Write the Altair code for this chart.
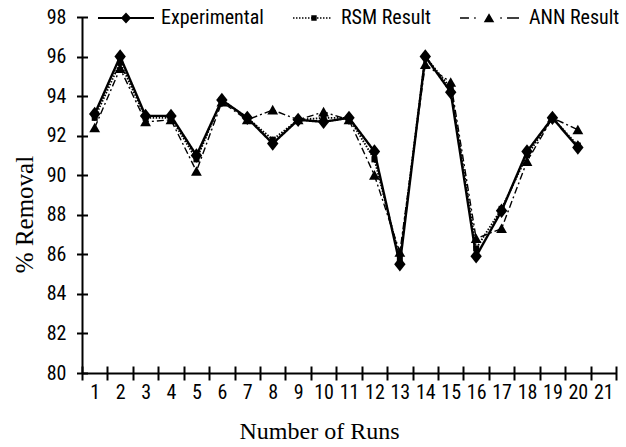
import altair as alt
import pandas as pd

# ---- data ----
runs = list(range(1, 21))
experimental = [93.1, 96.0, 93.0, 93.0, 91.0, 93.8, 92.9, 91.6, 92.8, 92.7,
                92.9, 91.2, 85.5, 96.0, 94.2, 85.9, 88.2, 91.2, 92.9, 91.4]
rsm = [92.9, 95.7, 92.9, 92.9, 90.8, 93.8, 92.9, 91.8, 92.8, 92.9,
       92.9, 90.8, 85.8, 96.0, 94.4, 86.3, 88.3, 91.0, 92.9, 91.5]
ann = [92.4, 95.4, 92.7, 92.8, 90.2, 93.7, 92.8, 93.3, 92.8, 93.2,
       92.8, 90.0, 86.1, 95.6, 94.7, 86.8, 87.3, 90.7, 92.9, 92.3]
series_names = ["Experimental", "RSM Result", "ANN Result"]
y_ticks = list(range(80, 99, 2))
x_labels = list(range(1, 22))

rows = []
for name, vals in zip(series_names, [experimental, rsm, ann]):
    for r, v in zip(runs, vals):
        rows.append({"run": r, "removal": v, "series": name})
df = pd.DataFrame(rows)

SANS = "Liberation Sans Narrow, Roboto Condensed, DejaVu Sans Condensed, sans-serif"
SERIF = "Liberation Serif, Times New Roman, serif"

# ---- marker shapes (unit space, -1..1 = symbol box) ----
chart_shapes = [
    "M0,-1.2L0.95,0L0,1.2L-0.95,0Z",
    "M-0.5,-0.5H0.5V0.5H-0.5Z",
    "M0,-0.85L0.9,0.75L-0.9,0.75Z",
]


def hbar(x0, x1, t=0.12):
    return f"M{x0:.2f},{-t:.2f}H{x1:.2f}V{t:.2f}H{x0:.2f}Z"


def dotted(x0, x1, step=0.5, w=0.25, t=0.12):
    out = []
    x = x0
    while x + w <= x1 + 1e-6:
        out.append(hbar(x, x + w, t))
        x += step
    return "".join(out)


leg_exp = hbar(-4.67, 4.67, 0.17) + "M0,-0.9L0.85,0L0,0.9L-0.85,0Z"
leg_rsm = dotted(-2.17, 4.17) + "M0.88,-0.45H1.78V0.45H0.88Z"
leg_ann = (hbar(-5.67, -4.17) + hbar(-3.3, -3.05) + "M-0.83,-0.8L0.05,0.7L-1.71,0.7Z"
           + hbar(1.05, 1.3) + hbar(2.17, 4.17))
legend_shapes = [leg_exp, leg_rsm, leg_ann]

x_scale = alt.Scale(domain=[0.5, 21.5], nice=False, zero=False)
y_scale = alt.Scale(domain=[80, 98], nice=False, zero=False)

axis_x_main = alt.Axis(
    orient="bottom", values=x_labels, format="d", domain=True, domainColor="black",
    domainWidth=2, ticks=False, tickSize=0, labelFont=SANS, labelFontSize=20,
    labelColor="black", labelPadding=9, labelFlush=False, labelOverlap=False, grid=False,
    title="Number of Runs", titleFont=SERIF, titleFontSize=24, titleFontWeight="normal",
    titleColor="black", titleX=237, titlePadding=17,
)
axis_x_ticks = alt.Axis(
    orient="bottom", values=[k - 0.5 for k in x_labels] + [21.5], domain=False,
    ticks=True, tickSize=14, tickWidth=2, tickColor="black", labels=False, grid=False,
    title=None, offset=-7,
)
axis_y_main = alt.Axis(
    orient="left", values=y_ticks, domain=True, domainColor="black", domainWidth=2,
    ticks=False, tickSize=0, labelFont=SANS, labelFontSize=20, labelColor="black",
    labelPadding=16, grid=False, title="% Removal", titleFont=SERIF, titleFontSize=25,
    titleFontWeight="normal", titleColor="black", titleY=197, titlePadding=9,
)
axis_y_ticks = alt.Axis(
    orient="left", values=y_ticks, domain=False, ticks=True, tickSize=11, tickWidth=2,
    tickColor="black", labels=False, grid=False, title=None, offset=-5.5,
)

base = alt.Chart(df)

lines = base.mark_line(color="black").encode(
    x=alt.X("run:Q", scale=x_scale, axis=axis_x_main),
    y=alt.Y("removal:Q", scale=y_scale, axis=axis_y_main),
    strokeDash=alt.StrokeDash("series:N", scale=alt.Scale(
        domain=series_names, range=[[1, 0], [1.5, 1.5], [7, 3, 2, 3]]), legend=None),
    strokeWidth=alt.StrokeWidth("series:N", scale=alt.Scale(
        domain=series_names, range=[2.4, 1.4, 1.5]), legend=None),
)

points = base.mark_point(filled=True, color="black", size=144, opacity=1).encode(
    x=alt.X("run:Q", scale=x_scale, axis=axis_x_ticks),
    y=alt.Y("removal:Q", scale=y_scale, axis=axis_y_ticks),
    shape=alt.Shape("series:N", scale=alt.Scale(domain=series_names, range=chart_shapes),
                    legend=None),
)

legend_layer = base.mark_point(filled=True, color="black", size=144, opacity=0).encode(
    x=alt.X("run:Q", scale=x_scale, axis=None),
    y=alt.Y("removal:Q", scale=y_scale, axis=None),
    shape=alt.Shape("series:N", scale=alt.Scale(domain=series_names, range=legend_shapes),
                    legend=alt.Legend(
                        orient="none", legendX=34, legendY=-9, direction="horizontal",
                        title=None, labelFont=SANS, labelFontSize=20, labelColor="black",
                        symbolSize=144, symbolStrokeWidth=0, symbolFillColor="black",
                        symbolOpacity=1, labelOffset=25, columnPadding=28, padding=0,
                    )),
)

chart = (
    alt.layer(lines, points, legend_layer)
    .resolve_scale(shape="independent")
    .resolve_axis(x="independent", y="independent")
    .properties(
        width=534, height=356,
        autosize=alt.AutoSizeParams(type="none"),
        padding={"left": 82, "top": 17, "right": 10, "bottom": 74},
        background="white",
    )
    .configure_view(stroke=None)
)

chart.save("out.html", embed_options={"renderer": "svg", "actions": False})
